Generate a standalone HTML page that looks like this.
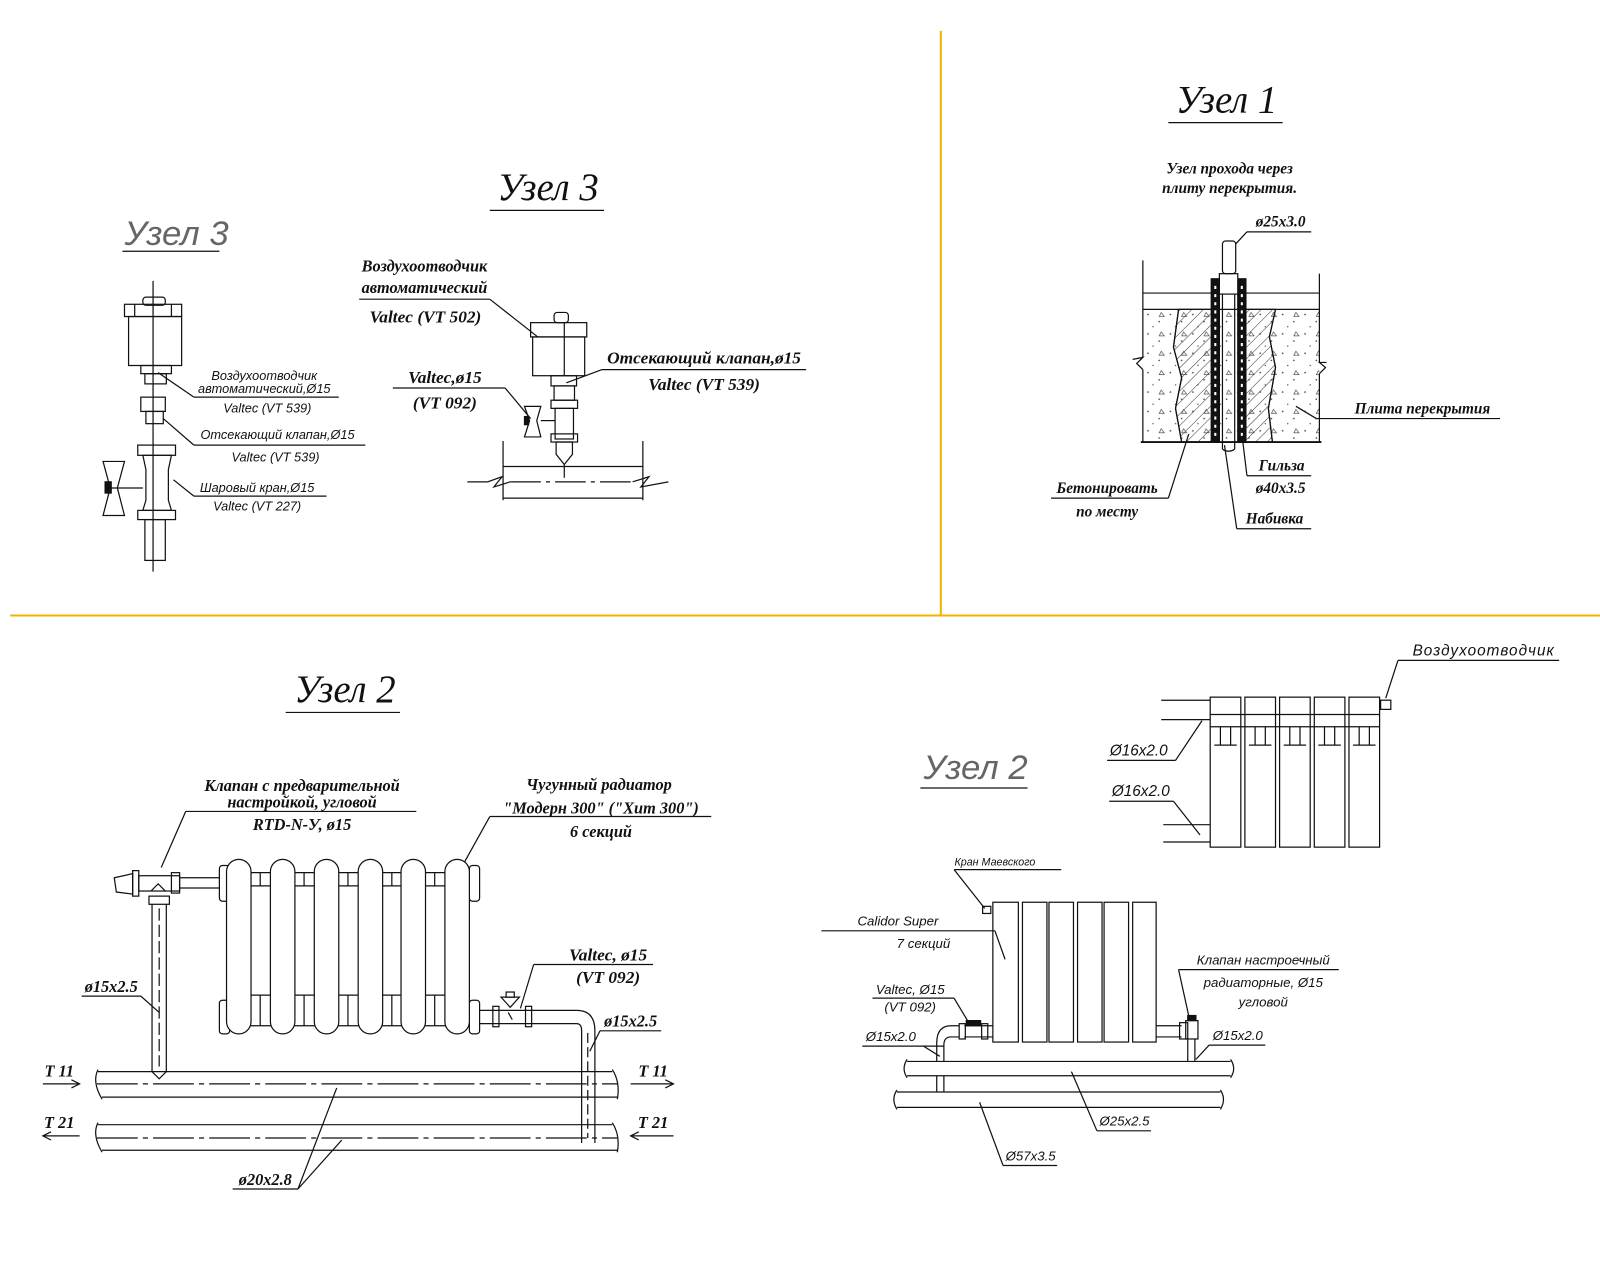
<!DOCTYPE html>
<html><head><meta charset="utf-8"><style>
html,body{margin:0;padding:0;background:#fff;}
svg{display:block}
.s{font-family:"Liberation Serif","Noto Serif CJK SC",serif;font-style:italic;font-weight:bold;fill:#111;}
.a{font-family:"Liberation Sans","Noto Sans CJK SC",sans-serif;font-style:italic;fill:#111;}
.t{font-family:"Liberation Serif","Noto Serif CJK SC",serif;font-style:italic;fill:#111;}
.g{font-family:"Liberation Sans","Noto Sans CJK SC",sans-serif;font-style:italic;fill:#666;font-weight:normal}
</style></head><body>
<svg width="1600" height="1280" viewBox="0 0 1568 1254" xmlns="http://www.w3.org/2000/svg">
<defs>
<pattern id="h" width="8" height="8" patternUnits="userSpaceOnUse" patternTransform="rotate(45)"><line x1="0" y1="0" x2="0" y2="8" stroke="#333" stroke-width="1"/></pattern>
<pattern id="c" width="22" height="19" patternUnits="userSpaceOnUse"><circle cx="3" cy="4" r="0.8" fill="#444"/><circle cx="14" cy="11" r="0.8" fill="#444"/><circle cx="8" cy="16" r="0.7" fill="#444"/><path d="M16 2 l3 4 h-5z" fill="none" stroke="#555" stroke-width="0.7"/></pattern>
</defs>
<g stroke="#f0b400" stroke-width="2"><line x1="922" y1="30" x2="922" y2="603"/><line x1="10" y1="603" x2="1568" y2="603"/></g>

<g fill="none" stroke="#111" stroke-width="1.2">
<!-- Узел 3 small -->
<line x1="120" y1="246" x2="215" y2="246"/>
<line x1="150" y1="275" x2="150" y2="560"/>
<rect x="140" y="291" width="22" height="8" rx="3"/>
<rect x="122" y="298" width="56" height="12"/><line x1="132" y1="298" x2="132" y2="310"/><line x1="168" y1="298" x2="168" y2="310"/>
<rect x="126" y="310" width="52" height="48"/>
<rect x="138" y="358" width="30" height="8"/><rect x="142" y="366" width="21" height="10"/>
<rect x="138" y="389" width="24" height="14"/><rect x="143" y="403" width="17" height="12"/>
<rect x="135" y="436" width="37" height="10"/><path d="M140 446 L168 446 L165 460 L165 490 L168 500 L140 500 L143 490 L143 460 Z"/>
<rect x="135" y="500" width="37" height="9"/><rect x="142" y="509" width="20" height="40"/>
<path d="M101 452 L122 452 L115 478 L122 505 L101 505 L108 478Z"/><rect x="103" y="472" width="6" height="11" fill="#111"/>
<line x1="109" y1="478" x2="140" y2="478"/>
<line x1="190" y1="389" x2="332" y2="389"/><line x1="155" y1="365" x2="190" y2="389"/>
<line x1="190" y1="436" x2="358" y2="436"/><line x1="160" y1="410" x2="190" y2="436"/>
<line x1="190" y1="486" x2="320" y2="486"/><line x1="170" y1="470" x2="190" y2="486"/>

<!-- Узел 3 main -->
<line x1="480" y1="206" x2="592" y2="206"/>
<line x1="352" y1="293" x2="480" y2="293"/><line x1="480" y1="293" x2="527" y2="330"/>
<rect x="543" y="306" width="14" height="10" rx="3"/>
<rect x="520" y="316" width="55" height="14"/><rect x="522" y="330" width="51" height="38"/>
<line x1="553" y1="316" x2="553" y2="368"/>
<rect x="540" y="368" width="25" height="10"/><rect x="543" y="378" width="20" height="14"/>
<rect x="540" y="392" width="26" height="8"/><rect x="544" y="400" width="18" height="30"/>
<rect x="540" y="425" width="26" height="8"/>
<path d="M545 433 L561 433 L561 445 L553 455 L545 445Z"/>
<path d="M514 398 L530 398 L526 412 L530 428 L514 428 L519 412Z"/><rect x="514" y="408" width="4" height="8" fill="#111"/>
<line x1="530" y1="412" x2="544" y2="412"/>
<line x1="553" y1="455" x2="553" y2="468"/>
<line x1="385" y1="380" x2="495" y2="380"/><line x1="495" y1="380" x2="520" y2="410"/>
<line x1="555" y1="375" x2="590" y2="362"/><line x1="590" y1="362" x2="790" y2="362"/>
<line x1="493" y1="432" x2="493" y2="490"/><line x1="630" y1="432" x2="630" y2="490"/>
<line x1="493" y1="457" x2="630" y2="457"/><line x1="493" y1="488" x2="630" y2="488"/>
<path d="M458 472 L478 472 L492 467 L484 477 L500 472"/><path d="M620 472 L636 467 L628 477 L655 472"/>
<line x1="500" y1="472" x2="620" y2="472" stroke-dasharray="30 5 4 5"/>

<!-- Узел 1 -->
<line x1="1145" y1="120" x2="1257" y2="120"/>
<line x1="1222" y1="227" x2="1285" y2="227"/><line x1="1210" y1="240" x2="1222" y2="227"/>
<rect x="1121" y="303" width="172" height="130" fill="url(#c)" stroke="none"/>
<path d="M1155 303 L1190 303 L1190 433 L1158 433 L1152 400 L1158 370 L1150 340Z" fill="url(#h)"/>
<path d="M1218 303 L1250 303 L1244 330 L1250 360 L1243 400 L1247 433 L1218 433Z" fill="url(#h)"/>
<path d="M1155 303 L1150 340 L1158 370 L1152 400 L1158 433" /><path d="M1250 303 L1244 330 L1250 360 L1243 400 L1247 433"/>
<line x1="1120" y1="255" x2="1120" y2="350"/><line x1="1120" y1="362" x2="1120" y2="433"/>
<path d="M1110 352 L1120 350 L1114 356 L1120 362"/>
<line x1="1293" y1="268" x2="1293" y2="355"/><line x1="1293" y1="366" x2="1293" y2="433"/>
<path d="M1300 355 L1293 355 L1299 360 L1293 366"/>
<line x1="1120" y1="287" x2="1293" y2="287"/><line x1="1120" y1="303" x2="1293" y2="303"/>
<line x1="1118" y1="433" x2="1295" y2="433" stroke-width="1.8"/>
<rect x="1187" y="273" width="8" height="160" fill="#111"/><rect x="1213" y="273" width="8" height="160" fill="#111"/>
<line x1="1191" y1="280" x2="1191" y2="430" stroke="#fff" stroke-width="2" stroke-dasharray="3 5"/>
<line x1="1217" y1="280" x2="1217" y2="430" stroke="#fff" stroke-width="2" stroke-dasharray="3 5"/>
<rect x="1195" y="268" width="18" height="20" fill="#fff"/>
<rect x="1198" y="236" width="13" height="32" rx="3" fill="#fff"/>
<line x1="1198" y1="288" x2="1198" y2="440"/><line x1="1210" y1="288" x2="1210" y2="440"/>
<path d="M1198 440 Q1204 444 1210 440"/>
<line x1="1290" y1="410" x2="1470" y2="410"/><line x1="1270" y1="398" x2="1290" y2="410"/>
<line x1="1222" y1="466" x2="1285" y2="466"/><line x1="1218" y1="433" x2="1222" y2="466"/>
<line x1="1212" y1="518" x2="1285" y2="518"/><line x1="1200" y1="436" x2="1212" y2="518"/>
<line x1="1030" y1="488" x2="1145" y2="488"/><line x1="1145" y1="488" x2="1165" y2="425"/>

<!-- Узел 2 left -->
<line x1="280" y1="698" x2="392" y2="698"/>
<line x1="182" y1="795" x2="408" y2="795"/><line x1="182" y1="795" x2="158" y2="850"/>
<line x1="480" y1="800" x2="697" y2="800"/><line x1="480" y1="800" x2="455" y2="845"/>
<rect x="215" y="848" width="10" height="35" rx="3"/><rect x="460" y="848" width="10" height="35" rx="3"/>
<rect x="215" y="980" width="10" height="33" rx="3"/><rect x="460" y="980" width="10" height="33" rx="3"/>
<line x1="225" y1="868" x2="460" y2="868"/><line x1="225" y1="975" x2="460" y2="975"/>
<line x1="225" y1="855" x2="460" y2="855"/><line x1="225" y1="1005" x2="460" y2="1005"/>
<g fill="#fff">
<rect x="222" y="842" width="24" height="171" rx="12"/><rect x="265" y="842" width="24" height="171" rx="12"/>
<rect x="308" y="842" width="24" height="171" rx="12"/><rect x="351" y="842" width="24" height="171" rx="12"/>
<rect x="393" y="842" width="24" height="171" rx="12"/><rect x="436" y="842" width="24" height="171" rx="12"/>
</g>
<line x1="255" y1="855" x2="255" y2="868"/><line x1="298" y1="855" x2="298" y2="868"/><line x1="341" y1="855" x2="341" y2="868"/><line x1="384" y1="855" x2="384" y2="868"/><line x1="426" y1="855" x2="426" y2="868"/>
<line x1="255" y1="975" x2="255" y2="1005"/><line x1="298" y1="975" x2="298" y2="1005"/><line x1="341" y1="975" x2="341" y2="1005"/><line x1="384" y1="975" x2="384" y2="1005"/><line x1="426" y1="975" x2="426" y2="1005"/>
<path d="M112 860 L130 856 L130 876 L114 874Z"/><rect x="130" y="853" width="6" height="25"/>
<rect x="136" y="858" width="40" height="15"/><rect x="168" y="855" width="8" height="20"/>
<line x1="176" y1="860" x2="215" y2="860"/><line x1="176" y1="870" x2="215" y2="870"/>
<path d="M148 873 L155 866 L162 873"/>
<rect x="146" y="878" width="20" height="8"/>
<line x1="149" y1="886" x2="149" y2="1050"/><line x1="163" y1="886" x2="163" y2="1050"/>
<line x1="156" y1="890" x2="156" y2="1045" stroke-dasharray="12 4"/>
<path d="M149 1050 L156 1057 L163 1050"/>
<line x1="470" y1="990" x2="565" y2="990"/><line x1="470" y1="1003" x2="565" y2="1003"/>
<rect x="483" y="986" width="6" height="20"/><rect x="515" y="986" width="6" height="20"/>
<path d="M491 977 L509 977 L500 987Z"/><rect x="496" y="972" width="8" height="5"/>
<path d="M498 992 L502 999"/>
<path d="M565 990 Q583 990 583 1010 L583 1120"/><path d="M565 1003 Q570 1003 570 1010 L570 1120"/>
<line x1="576" y1="1012" x2="576" y2="1115" stroke-dasharray="10 4"/>
<line x1="80" y1="976" x2="138" y2="976"/><line x1="138" y1="976" x2="156" y2="992"/>
<line x1="588" y1="1010" x2="648" y2="1010"/><line x1="588" y1="1010" x2="578" y2="1030"/>
<line x1="523" y1="945" x2="640" y2="945"/><line x1="523" y1="945" x2="510" y2="988"/>
<!-- mains -->
<line x1="96" y1="1050" x2="600" y2="1050" fill="none"/><line x1="100" y1="1075" x2="605" y2="1075"/>
<path d="M96 1048 Q90 1060 100 1077"/><path d="M600 1048 Q608 1060 605 1077"/>
<line x1="95" y1="1062" x2="605" y2="1062" stroke-dasharray="40 5 5 5"/>
<line x1="96" y1="1102" x2="600" y2="1102"/><line x1="100" y1="1127" x2="605" y2="1127"/>
<path d="M96 1100 Q90 1112 100 1129"/><path d="M600 1100 Q608 1112 605 1129"/>
<line x1="95" y1="1115" x2="605" y2="1115" stroke-dasharray="40 5 5 5"/>
<path d="M42 1062 L78 1062 M70 1058 L78 1062 L70 1066"/>
<path d="M618 1062 L660 1062 M652 1058 L660 1062 L652 1066"/>
<path d="M42 1113 L78 1113 M50 1109 L42 1113 L50 1117"/>
<path d="M618 1113 L660 1113 M626 1109 L618 1113 L626 1117"/>
<line x1="228" y1="1165" x2="292" y2="1165"/><line x1="292" y1="1165" x2="330" y2="1066"/><line x1="292" y1="1165" x2="335" y2="1117"/>

<!-- Узел 2 right -->
<line x1="902" y1="772" x2="1007" y2="772"/>
<line x1="1138" y1="686" x2="1186" y2="686"/><line x1="1138" y1="705" x2="1186" y2="705"/>
<line x1="1140" y1="808" x2="1186" y2="808"/><line x1="1140" y1="825" x2="1186" y2="825"/>
<g>
<rect x="1186" y="683" width="30" height="147"/><rect x="1220" y="683" width="30" height="147"/><rect x="1254" y="683" width="30" height="147"/><rect x="1288" y="683" width="30" height="147"/><rect x="1322" y="683" width="30" height="147"/>
</g>
<path d="M1186 700 H1352 M1186 712 H1352"/>
<path d="M1196 712 V730 M1206 712 V730 M1190 730 H1212 M1230 712 V730 M1240 712 V730 M1224 730 H1246 M1264 712 V730 M1274 712 V730 M1258 730 H1280 M1298 712 V730 M1308 712 V730 M1292 730 H1314 M1332 712 V730 M1342 712 V730 M1326 730 H1348"/>
<rect x="1353" y="686" width="10" height="9"/>
<line x1="1370" y1="647" x2="1528" y2="647"/><line x1="1370" y1="647" x2="1358" y2="684"/>
<line x1="1085" y1="745" x2="1152" y2="745"/><line x1="1152" y1="745" x2="1178" y2="706"/>
<line x1="1087" y1="785" x2="1150" y2="785"/><line x1="1150" y1="785" x2="1176" y2="818"/>
<g>
<rect x="973" y="884" width="25" height="137"/><rect x="1002" y="884" width="24" height="137"/><rect x="1028" y="884" width="24" height="137"/><rect x="1056" y="884" width="24" height="137"/><rect x="1082" y="884" width="24" height="137"/><rect x="1110" y="884" width="23" height="137"/>
</g>
<rect x="963" y="888" width="8" height="7"/>
<line x1="935" y1="852" x2="1040" y2="852"/><line x1="935" y1="852" x2="965" y2="890"/>
<line x1="805" y1="912" x2="975" y2="912"/><line x1="975" y1="912" x2="985" y2="940"/>
<line x1="855" y1="978" x2="935" y2="978"/><line x1="935" y1="978" x2="950" y2="1003"/>
<path d="M973 1005 H945 M973 1016 H945"/><rect x="940" y="1003" width="6" height="15"/><rect x="962" y="1003" width="6" height="15"/>
<rect x="947" y="1000" width="14" height="5" fill="#111"/>
<path d="M940 1005 H932 Q918 1005 918 1022 V1040 M940 1016 H932 Q925 1016 925 1024 V1040"/>
<line x1="918" y1="1054" x2="918" y2="1070"/><line x1="925" y1="1054" x2="925" y2="1070"/>
<path d="M1133 1005 H1158 M1133 1016 H1158"/><rect x="1156" y="1002" width="8" height="16"/>
<rect x="1162" y="1000" width="12" height="18"/><rect x="1164" y="995" width="8" height="5" fill="#111"/>
<line x1="1164" y1="1018" x2="1164" y2="1040"/><line x1="1171" y1="1018" x2="1171" y2="1040"/>
<line x1="889" y1="1040" x2="1206" y2="1040"/><line x1="889" y1="1054" x2="1206" y2="1054"/>
<path d="M889 1038 Q883 1047 889 1056"/><path d="M1206 1038 Q1212 1047 1206 1056"/>
<line x1="879" y1="1070" x2="1196" y2="1070"/><line x1="879" y1="1085" x2="1196" y2="1085"/>
<path d="M879 1068 Q873 1077 879 1087"/><path d="M1196 1068 Q1202 1077 1196 1087"/>
<line x1="1155" y1="950" x2="1312" y2="950"/><line x1="1155" y1="950" x2="1166" y2="1000"/>
<line x1="1185" y1="1024" x2="1240" y2="1024"/><line x1="1185" y1="1024" x2="1172" y2="1038"/>
<line x1="1075" y1="1108" x2="1128" y2="1108"/><line x1="1075" y1="1108" x2="1050" y2="1050"/>
<line x1="983" y1="1142" x2="1036" y2="1142"/><line x1="983" y1="1142" x2="960" y2="1080"/>
<line x1="845" y1="1025" x2="925" y2="1025"/><line x1="905" y1="1025" x2="921" y2="1035"/>
</g>

<!-- TEXT -->
<text class="g" x="122" y="240" font-size="34">Узел 3</text>
<text class="a" x="259" y="372" font-size="12.5" text-anchor="middle">Воздухоотводчик</text>
<text class="a" x="259" y="385" font-size="12.5" text-anchor="middle">автоматический,Ø15</text>
<text class="a" x="262" y="404" font-size="12.5" text-anchor="middle">Valtec (VT 539)</text>
<text class="a" x="272" y="430" font-size="12.5" text-anchor="middle">Отсекающий клапан,Ø15</text>
<text class="a" x="270" y="452" font-size="12.5" text-anchor="middle">Valtec (VT 539)</text>
<text class="a" x="252" y="482" font-size="12.5" text-anchor="middle">Шаровый кран,Ø15</text>
<text class="a" x="252" y="500" font-size="12.5" text-anchor="middle">Valtec (VT 227)</text>

<text class="t" x="537" y="196" font-size="38" text-anchor="middle">Узел 3</text>
<text class="s" x="416" y="266" font-size="16" text-anchor="middle">Воздухоотводчик</text>
<text class="s" x="416" y="287" font-size="16" text-anchor="middle">автоматический</text>
<text class="s" x="417" y="316" font-size="17" text-anchor="middle" font-weight="normal">Valtec (VT 502)</text>
<text class="s" x="436" y="375" font-size="17" text-anchor="middle" font-weight="normal">Valtec,ø15</text>
<text class="s" x="436" y="400" font-size="17" text-anchor="middle" font-weight="normal">(VT 092)</text>
<text class="s" x="690" y="356" font-size="17" text-anchor="middle">Отсекающий клапан,ø15</text>
<text class="s" x="690" y="382" font-size="17" text-anchor="middle" font-weight="normal">Valtec (VT 539)</text>

<text class="t" x="1202" y="110" font-size="38" text-anchor="middle">Узел 1</text>
<text class="s" x="1205" y="170" font-size="15" text-anchor="middle">Узел прохода через</text>
<text class="s" x="1205" y="189" font-size="15" text-anchor="middle">плиту перекрытия.</text>
<text class="s" x="1255" y="222" font-size="15" text-anchor="middle">ø25х3.0</text>
<text class="s" x="1394" y="405" font-size="15" text-anchor="middle">Плита перекрытия</text>
<text class="s" x="1256" y="461" font-size="15" text-anchor="middle">Гильза</text>
<text class="s" x="1255" y="483" font-size="15" text-anchor="middle">ø40х3.5</text>
<text class="s" x="1249" y="513" font-size="15" text-anchor="middle">Набивка</text>
<text class="s" x="1085" y="483" font-size="15" text-anchor="middle">Бетонировать</text>
<text class="s" x="1085" y="506" font-size="15" text-anchor="middle">по месту</text>

<text class="t" x="338" y="688" font-size="38" text-anchor="middle">Узел 2</text>
<text class="s" x="296" y="775" font-size="16" text-anchor="middle">Клапан с предварительной</text>
<text class="s" x="296" y="791" font-size="16" text-anchor="middle">настройкой, угловой</text>
<text class="s" x="296" y="813" font-size="16" text-anchor="middle">RTD-N-У, ø15</text>
<text class="s" x="587" y="774" font-size="16" text-anchor="middle">Чугунный радиатор</text>
<text class="s" x="589" y="797" font-size="16" text-anchor="middle">"Модерн 300" ("Хит 300")</text>
<text class="s" x="589" y="820" font-size="16" text-anchor="middle">6 секций</text>
<text class="s" x="596" y="941" font-size="17" text-anchor="middle">Valtec, ø15</text>
<text class="s" x="596" y="963" font-size="17" text-anchor="middle">(VT 092)</text>
<text class="s" x="109" y="972" font-size="16" text-anchor="middle">ø15х2.5</text>
<text class="s" x="618" y="1006" font-size="16" text-anchor="middle">ø15х2.5</text>
<text class="s" x="58" y="1055" font-size="16" text-anchor="middle">Т 11</text>
<text class="s" x="640" y="1055" font-size="16" text-anchor="middle">Т 11</text>
<text class="s" x="58" y="1105" font-size="16" text-anchor="middle">Т 21</text>
<text class="s" x="640" y="1105" font-size="16" text-anchor="middle">Т 21</text>
<text class="s" x="260" y="1161" font-size="16" text-anchor="middle">ø20х2.8</text>

<text class="g" x="905" y="763" font-size="34">Узел 2</text>
<text class="a" x="1454" y="642" font-size="15" text-anchor="middle" font-style="normal" letter-spacing="1">Воздухоотводчик</text>
<text class="a" x="1116" y="740" font-size="15" text-anchor="middle">Ø16x2.0</text>
<text class="a" x="1118" y="780" font-size="15" text-anchor="middle">Ø16x2.0</text>
<text class="a" x="975" y="848" font-size="10.5" text-anchor="middle">Кран Маевского</text>
<text class="a" x="880" y="907" font-size="13" text-anchor="middle">Calidor Super</text>
<text class="a" x="905" y="929" font-size="13" text-anchor="middle">7 секций</text>
<text class="a" x="892" y="974" font-size="13" text-anchor="middle">Valtec, Ø15</text>
<text class="a" x="892" y="991" font-size="13" text-anchor="middle">(VT 092)</text>
<text class="a" x="873" y="1020" font-size="13" text-anchor="middle">Ø15x2.0</text>
<text class="a" x="1238" y="945" font-size="13" text-anchor="middle">Клапан настроечный</text>
<text class="a" x="1238" y="967" font-size="13" text-anchor="middle">радиаторные, Ø15</text>
<text class="a" x="1238" y="986" font-size="13" text-anchor="middle">угловой</text>
<text class="a" x="1213" y="1019" font-size="13" text-anchor="middle">Ø15x2.0</text>
<text class="a" x="1102" y="1103" font-size="13" text-anchor="middle">Ø25x2.5</text>
<text class="a" x="1010" y="1137" font-size="13" text-anchor="middle">Ø57x3.5</text>
</svg>
</body></html>
